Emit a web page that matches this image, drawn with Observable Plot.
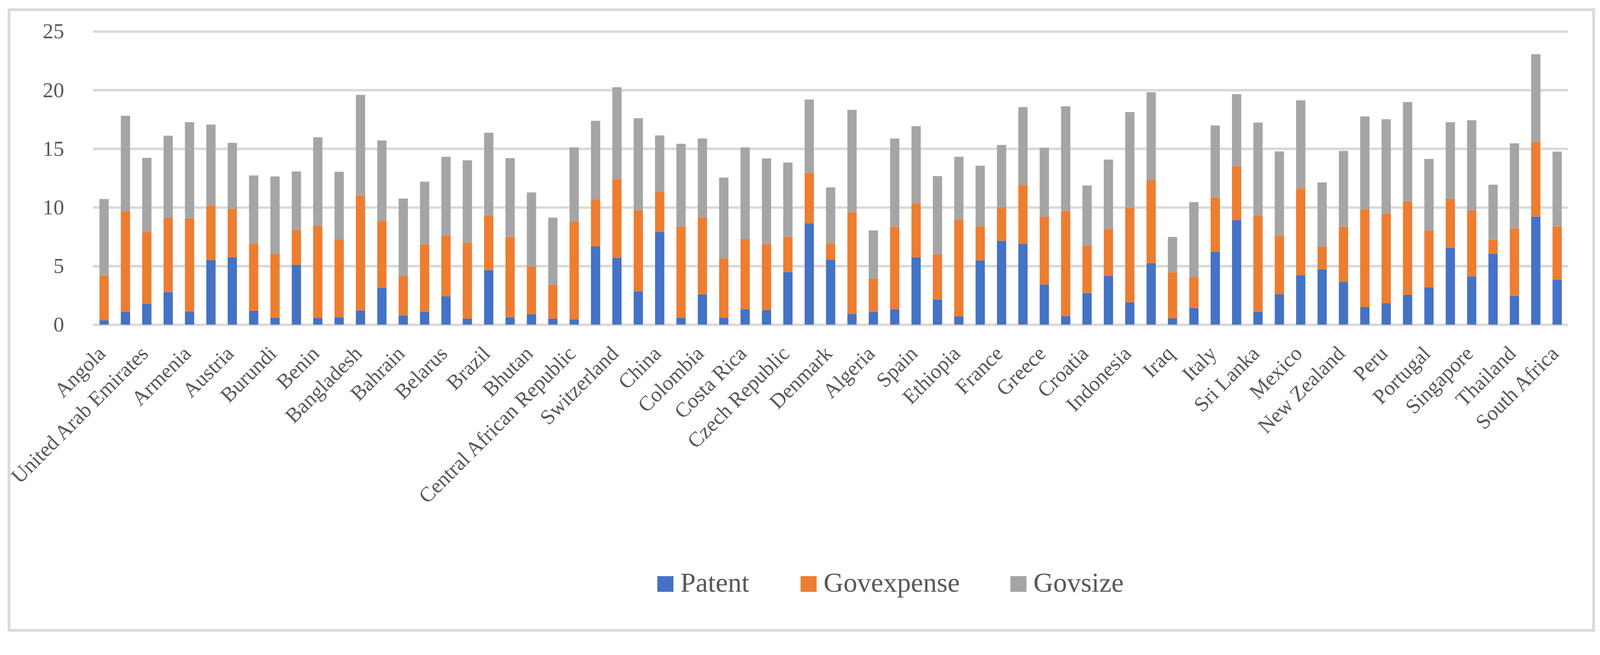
<!DOCTYPE html>
<html>
<head>
<meta charset="utf-8">
<script src="https://cdn.jsdelivr.net/npm/d3@7"></script>
<script src="https://cdn.jsdelivr.net/npm/@observablehq/plot@0.6"></script>
<style>
  html, body { margin: 0; padding: 0; background: #fff; overflow: hidden; }
  #page { width: 4179px; height: 1677px; position: absolute; left: 0; top: 0; transform-origin: 0 0; font-family: 'Liberation Serif', serif; }
  #frame { position: absolute; left: 20px; top: 22px; width: 4146px; height: 1628px; border: 7px solid #d9d9d9; box-sizing: border-box; }
  #chart { position: absolute; left: 0; top: 0; width: 4179px; }
  #chart svg { max-width: none !important; width: 4179px; height: 1420px; }
  .leg { position: absolute; top: 1486px; font-size: 72px; line-height: 72px; color: #595959; white-space: nowrap; }
  .sw { position: absolute; top: 1505px; width: 42px; height: 41px; }
</style>
</head>
<body>
<div id="page">
  <div id="frame"></div>
  <div id="chart"></div>
  <div id="legend"></div>
</div>
<script>
const countries = [
  "Angola","Albania","United Arab Emirates","Argentina","Armenia","Australia","Austria","Azerbaijan",
  "Burundi","Belgium","Benin","Burkina Faso","Bangladesh","Bulgaria","Bahrain","Bosnia and Herzegovina",
  "Belarus","Bolivia","Brazil","Brunei","Bhutan","Botswana","Central African Republic","Canada",
  "Switzerland","Chile","China","Cameroon","Colombia","Cabo Verde","Costa Rica","Cyprus",
  "Czech Republic","Germany","Denmark","Dominican Republic","Algeria","Ecuador","Spain","Estonia",
  "Ethiopia","Finland","France","United Kingdom","Greece","Guatemala","Croatia","Hungary",
  "Indonesia","India","Iraq","Israel","Italy","Japan","Sri Lanka","Morocco",
  "Mexico","Netherlands","New Zealand","Pakistan","Peru","Poland","Portugal","Russia",
  "Singapore","Sweden","Thailand","United States","South Africa"
];
const labelledCountries = countries.filter((d, i) => i % 2 === 0);

const patent = [
  0.37,1.10,1.79,2.78,1.13,5.51,5.75,1.17,0.57,5.11,0.57,0.63,1.22,3.13,0.79,1.12,
  2.40,0.51,4.65,0.63,0.87,0.51,0.44,6.67,5.69,2.85,7.91,0.57,2.59,0.57,1.30,1.26,
  4.49,8.65,5.53,0.92,1.08,1.30,5.74,2.15,0.70,5.47,7.15,6.89,3.42,0.73,2.69,4.16,
  1.90,5.23,0.54,1.42,6.21,8.92,1.12,2.62,4.22,4.70,3.66,1.50,1.83,2.54,3.17,6.55,
  4.12,6.04,2.45,9.21,3.84
];
const govexpense = [
  3.80,8.56,6.12,6.32,7.95,4.67,4.13,5.75,5.48,2.98,7.87,6.64,9.78,5.72,3.35,5.71,
  5.19,6.48,4.65,6.85,4.11,2.86,8.35,4.02,6.71,6.92,3.46,7.78,6.56,5.06,6.00,5.60,
  2.99,4.28,1.39,8.66,2.87,7.05,4.60,3.86,8.22,2.91,2.84,5.03,5.78,8.95,4.05,3.98,
  8.03,7.10,3.92,2.64,4.64,4.58,8.14,4.97,7.37,1.96,4.69,8.35,7.65,7.97,4.88,4.17,
  5.65,1.21,5.75,6.35,4.54
];
const govsize = [
  6.54,8.15,6.31,7.01,8.18,6.88,5.62,5.80,6.58,4.97,7.53,5.76,8.59,6.85,6.61,5.36,
  6.72,7.02,7.06,6.72,6.29,5.75,6.32,6.69,7.84,7.83,4.76,7.07,6.72,6.91,7.81,7.31,
  6.34,6.26,4.78,8.73,4.08,7.52,6.58,6.65,5.39,5.17,5.33,6.63,5.88,8.93,5.12,5.93,
  8.19,7.48,3.02,6.39,6.13,6.15,7.97,7.18,7.53,5.47,6.46,7.90,8.03,8.47,6.08,6.54,
  7.65,4.68,7.26,7.50,6.37
];
const seriesNames = ["Patent","Govexpense","Govsize"];
const seriesColors = ["#4472C4","#ED7D31","#A5A5A5"];
const yTicks = [0,5,10,15,20,25];

// fit the 4179x1677 design into whatever CSS viewport the browser gives
const page = document.getElementById("page");
const fit = Math.min(window.innerWidth / 4179, window.innerHeight / 1677);
if (fit > 0 && Math.abs(fit - 1) > 0.001) page.style.transform = `scale(${fit})`;

const seriesValues = [patent, govexpense, govsize];
const table = [];
countries.forEach((c, i) => {
  seriesNames.forEach((s, j) => table.push({country: c, series: s, value: seriesValues[j][i]}));
});

const chart = Plot.plot({
  width: 4179,
  height: 1420,
  marginLeft: 243,
  marginRight: 83,
  marginTop: 82,
  marginBottom: 572,
  style: {fontFamily: "'Liberation Serif', serif", color: "#595959", background: "transparent", overflow: "visible"},
  x: {domain: countries, paddingInner: 0.566, paddingOuter: 0.3, round: false, label: null},
  y: {domain: [0, 25], label: null},
  color: {domain: seriesNames, range: seriesColors},
  marks: [
    Plot.ruleY(yTicks, {stroke: "#d9d9d9", strokeWidth: 6.5}),
    Plot.barY(table, {x: "country", y: "value", fill: "series", order: seriesNames}),
    Plot.axisY({ticks: yTicks, tickSize: 0, tickPadding: 76, fontSize: 56, fill: "#595959", label: null}),
    Plot.axisX({ticks: labelledCountries, tickSize: 0, tickPadding: 66, dx: -6, tickRotate: -45, fontSize: 55, fill: "#595959", label: null})
  ]
});
document.getElementById("chart").appendChild(chart);

const legend = document.getElementById("legend");
const legendX = [1717, 2091, 2639];
seriesNames.forEach((s, j) => {
  const sw = document.createElement("div");
  sw.className = "sw";
  sw.style.left = legendX[j] + "px";
  sw.style.background = seriesColors[j];
  legend.appendChild(sw);
  const t = document.createElement("div");
  t.className = "leg";
  t.style.left = (legendX[j] + 60) + "px";
  t.textContent = s;
  legend.appendChild(t);
});
</script>
</body>
</html>
